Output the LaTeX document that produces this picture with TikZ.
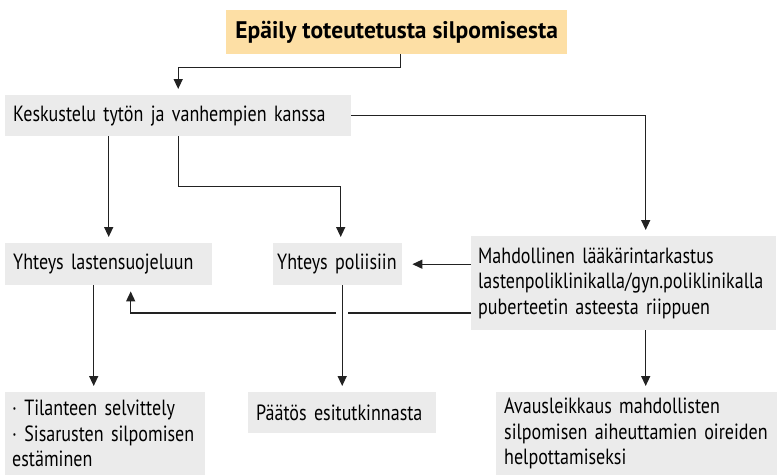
\documentclass[tikz,border=0pt]{standalone}
\usepackage{fontspec}
\setmainfont{PT Sans}[FakeStretch=0.82,BoldFeatures={FakeStretch=0.98}]
\usetikzlibrary{arrows.meta}
\definecolor{orangebox}{HTML}{FDDFA5}
\definecolor{graybox}{HTML}{EBEBEB}
\definecolor{linecol}{HTML}{222222}
\tikzstyle{box}=[fill=graybox,inner xsep=8pt,inner ysep=0pt,anchor=north west,align=left,font=\fontsize{22}{25.5}\selectfont]
\tikzstyle{topbox}=[fill=orangebox,inner sep=0pt,anchor=north west,align=center,font=\fontsize{24}{26}\selectfont\bfseries]
\tikzstyle{arr}=[draw=linecol,line width=1.4pt,-{Triangle[length=10pt,width=9pt]},shorten >=6pt]

\begin{document}
\begin{tikzpicture}[x=1pt,y=1pt]
    \useasboundingbox (0,0) rectangle (777,-475);
    \node[topbox,minimum width=341,minimum height=44] (epaily) at (226,-10) {Epäily toteutetusta silpomisesta};
    \node[box,text width=330,minimum height=41] (kesk) at (5,-95) {Keskustelu tytön ja vanhempien kanssa};
    \node[box,text width=191,minimum height=42] (suoj) at (5,-243) {Yhteys lastensuojeluun};
    \node[box,text width=121,inner xsep=4pt,minimum height=42] (pol) at (273,-243) {Yhteys poliisiin};
    \node[box,text width=291,inner xsep=7pt,minimum height=94] (mahd) at (471,-236) {Mahdollinen lääkärintarkastus\\lastenpoliklinikalla/gyn.poliklinikalla\\puberteetin asteesta riippuen};
    \node[box,text width=186,inner xsep=7pt,minimum height=83] (tila) at (5,-392) {· Tilanteen selvittely\\· Sisarusten silpomisen\\estäminen};
    \node[box,text width=172,minimum height=41] (paat) at (248,-392) {Päätös esitutkinnasta};
    \node[box,text width=265,minimum height=83] (avaus) at (496,-392) {Avausleikkaus mahdollisten\\silpomisen aiheuttamien oireiden\\helpottamiseksi};
	%connectors
    \draw[arr] ([xshift=4]epaily.south) -- ++(0,-13) -| (kesk.north);
    \draw[arr] (kesk.east) -| ([xshift=22]mahd.north);
    \draw[arr] (kesk.south -| suoj.north) -- (suoj.north);
    \draw[arr] (kesk.south) -- ++(0,-50) -| ([xshift=3]pol.north);
    \draw[arr,shorten >=10pt] (pol.east -| mahd.west) -- (pol.east);
    \draw[arr] ([yshift=-77]mahd.north west) -| ([xshift=22]suoj.south);
    \draw[arr] ([xshift=-15]suoj.south) -- ([xshift=-15]suoj.south |- tila.north);
    \draw[arr,preaction={draw=white,line width=12pt,-,shorten >=0pt}] (pol.south -| paat.north) -- (paat.north);
    \draw[arr] ([xshift=22]mahd.south) -- ([xshift=22]mahd.south |- avaus.north);
\end{tikzpicture}
\end{document}
